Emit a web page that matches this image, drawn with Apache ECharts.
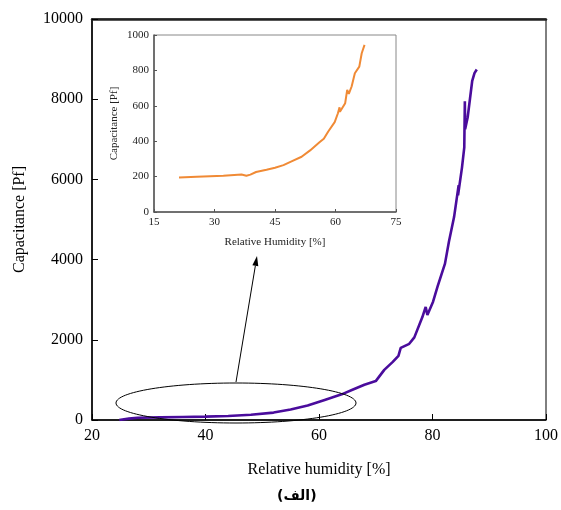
<!DOCTYPE html>
<html>
<head>
<meta charset="utf-8">
<script src="https://cdn.jsdelivr.net/npm/echarts@6/dist/echarts.min.js"></script>
<style>
  html, body { margin: 0; padding: 0; background: #fff; }
  #main { width: 561px; height: 510px; }
</style>
</head>
<body>
<div id="main"></div>
<script>
// main curve: relative humidity [%] vs capacitance [pF]
var mainX = [24.8, 26.5, 28, 32, 36, 40, 44, 48, 52, 55, 58, 61, 64, 66, 68, 70, 71.5, 73, 74, 74.4, 75.9, 76.8, 78.2, 78.8, 79.1, 80.1, 80.9, 82.2, 82.9, 83.8, 84.4, 84.6, 84.5, 85.2, 85.6, 85.7, 85.75, 86.2, 87, 87.4, 87.8];
var mainY = [0, 35, 55, 65, 75, 85, 100, 130, 185, 260, 360, 500, 640, 760, 880, 970, 1250, 1450, 1600, 1800, 1900, 2060, 2560, 2820, 2620, 2950, 3330, 3900, 4450, 5060, 5650, 5850, 5600, 6300, 6800, 7950, 7250, 7550, 8460, 8650, 8740];

// inset curve (zoom on the low-humidity range)
var insetX = [21.2, 25.6, 32.2, 36.7, 37.9, 38.9, 40.3, 42.9, 45, 47.1, 49.1, 51.6, 53.7, 56.1, 57.1, 58.2, 59.8, 60.6, 61, 61.1, 62.4, 62.9, 63.3, 64, 64.8, 65.9, 66.5, 67.2];
var insetY = [195, 199, 205, 212, 205, 211, 226, 239, 250, 265, 286, 312, 348, 395, 414, 455, 508, 558, 592, 566, 615, 690, 667, 709, 784, 821, 897, 944];

function pairs(xs, ys) {
  var res = [];
  for (var i = 0; i < xs.length; i++) {
    res.push([xs[i], ys[i]]);
  }
  return res;
}

function plain(v) {
  return String(v);
}

var serif = 'Liberation Serif, Times New Roman, serif';

// arrow from the ellipse up to the inset
var tip = [257, 256], tail = [236, 382];
var dx = tip[0] - tail[0], dy = tip[1] - tail[1];
var len = Math.sqrt(dx * dx + dy * dy);
var ux = dx / len, uy = dy / len;
var bx = tip[0] - 10 * ux, by = tip[1] - 10 * uy;

var option = {
  backgroundColor: '#fff',
  animation: false,
  grid: [
    { left: 92, top: 19, right: 12, bottom: 90, show: true, borderColor: '#000', borderWidth: 1 },
    { left: 154, top: 35, width: 242, height: 177, show: true, borderColor: '#888', borderWidth: 1, backgroundColor: '#fff' }
  ],
  xAxis: [{
    gridIndex: 0,
    type: 'value',
    min: 20, max: 100, interval: 20,
    name: 'Relative humidity [%]',
    nameLocation: 'middle',
    nameGap: 42,
    nameTextStyle: { fontFamily: serif, fontSize: 16, color: '#000' },
    axisLine: { lineStyle: { color: '#000', width: 1.5 } },
    axisTick: { inside: true, length: 6, lineStyle: { color: '#000' } },
    axisLabel: { fontFamily: serif, fontSize: 16, color: '#000', margin: 8, formatter: plain },
    splitLine: { show: false }
  }, {
    gridIndex: 0,
    type: 'value',
    position: 'top',
    min: 20, max: 100,
    axisLine: { lineStyle: { color: '#222', width: 2.5 } },
    axisTick: { show: false },
    axisLabel: { show: false },
    splitLine: { show: false }
  }, {
    gridIndex: 1,
    type: 'value',
    min: 15, max: 75, interval: 15,
    name: 'Relative Humidity [%]',
    nameLocation: 'middle',
    nameGap: 25,
    nameTextStyle: { fontFamily: serif, fontSize: 11, color: '#222' },
    axisLine: { lineStyle: { color: '#555', width: 1.5 } },
    axisTick: { inside: true, length: 3, lineStyle: { color: '#555' } },
    axisLabel: { fontFamily: serif, fontSize: 11, color: '#222', margin: 5, formatter: plain },
    splitLine: { show: false }
  }],
  yAxis: [{
    gridIndex: 0,
    type: 'value',
    min: 0, max: 10000, interval: 2000,
    name: 'Capacitance [Pf]',
    nameLocation: 'middle',
    nameGap: 64,
    nameTextStyle: { fontFamily: serif, fontSize: 16, color: '#000' },
    axisLine: { lineStyle: { color: '#000', width: 1.5 } },
    axisTick: { inside: true, length: 6, lineStyle: { color: '#000' } },
    axisLabel: { fontFamily: serif, fontSize: 16, color: '#000', margin: 9, formatter: plain },
    splitLine: { show: false }
  }, {
    gridIndex: 1,
    type: 'value',
    min: 0, max: 1000, interval: 200,
    name: 'Capacitance [Pf]',
    nameLocation: 'middle',
    nameGap: 34,
    nameTextStyle: { fontFamily: serif, fontSize: 11, color: '#222' },
    axisLine: { lineStyle: { color: '#555', width: 1.5 } },
    axisTick: { inside: true, length: 3, lineStyle: { color: '#555' } },
    axisLabel: { fontFamily: serif, fontSize: 11, color: '#222', margin: 5, formatter: plain },
    splitLine: { show: false }
  }],
  series: [{
    type: 'line',
    xAxisIndex: 0,
    yAxisIndex: 0,
    data: pairs(mainX, mainY),
    showSymbol: false,
    lineStyle: { color: '#4a0c9c', width: 2.6 },
    z: 3
  }, {
    type: 'line',
    xAxisIndex: 2,
    yAxisIndex: 1,
    data: pairs(insetX, insetY),
    showSymbol: false,
    lineStyle: { color: '#f08a35', width: 2 },
    z: 5
  }],
  graphic: [{
    type: 'ellipse',
    shape: { cx: 236, cy: 403, rx: 120, ry: 20 },
    style: { fill: 'none', stroke: '#000', lineWidth: 1 },
    z: 10
  }, {
    type: 'line',
    shape: { x1: tail[0], y1: tail[1], x2: bx, y2: by },
    style: { stroke: '#000', lineWidth: 1 },
    z: 10
  }, {
    type: 'polygon',
    shape: { points: [tip, [bx - 3 * uy, by + 3 * ux], [bx + 3 * uy, by - 3 * ux]] },
    style: { fill: '#000' },
    z: 10
  }, {
    type: 'text',
    left: 277,
    top: 489,
    style: { text: '(الف)', fontFamily: 'DejaVu Sans', fontWeight: 'bold', fontSize: 14, fill: '#000' },
    z: 10
  }]
};

var chart = echarts.init(document.getElementById('main'));
chart.setOption(option);
</script>
</body>
</html>
